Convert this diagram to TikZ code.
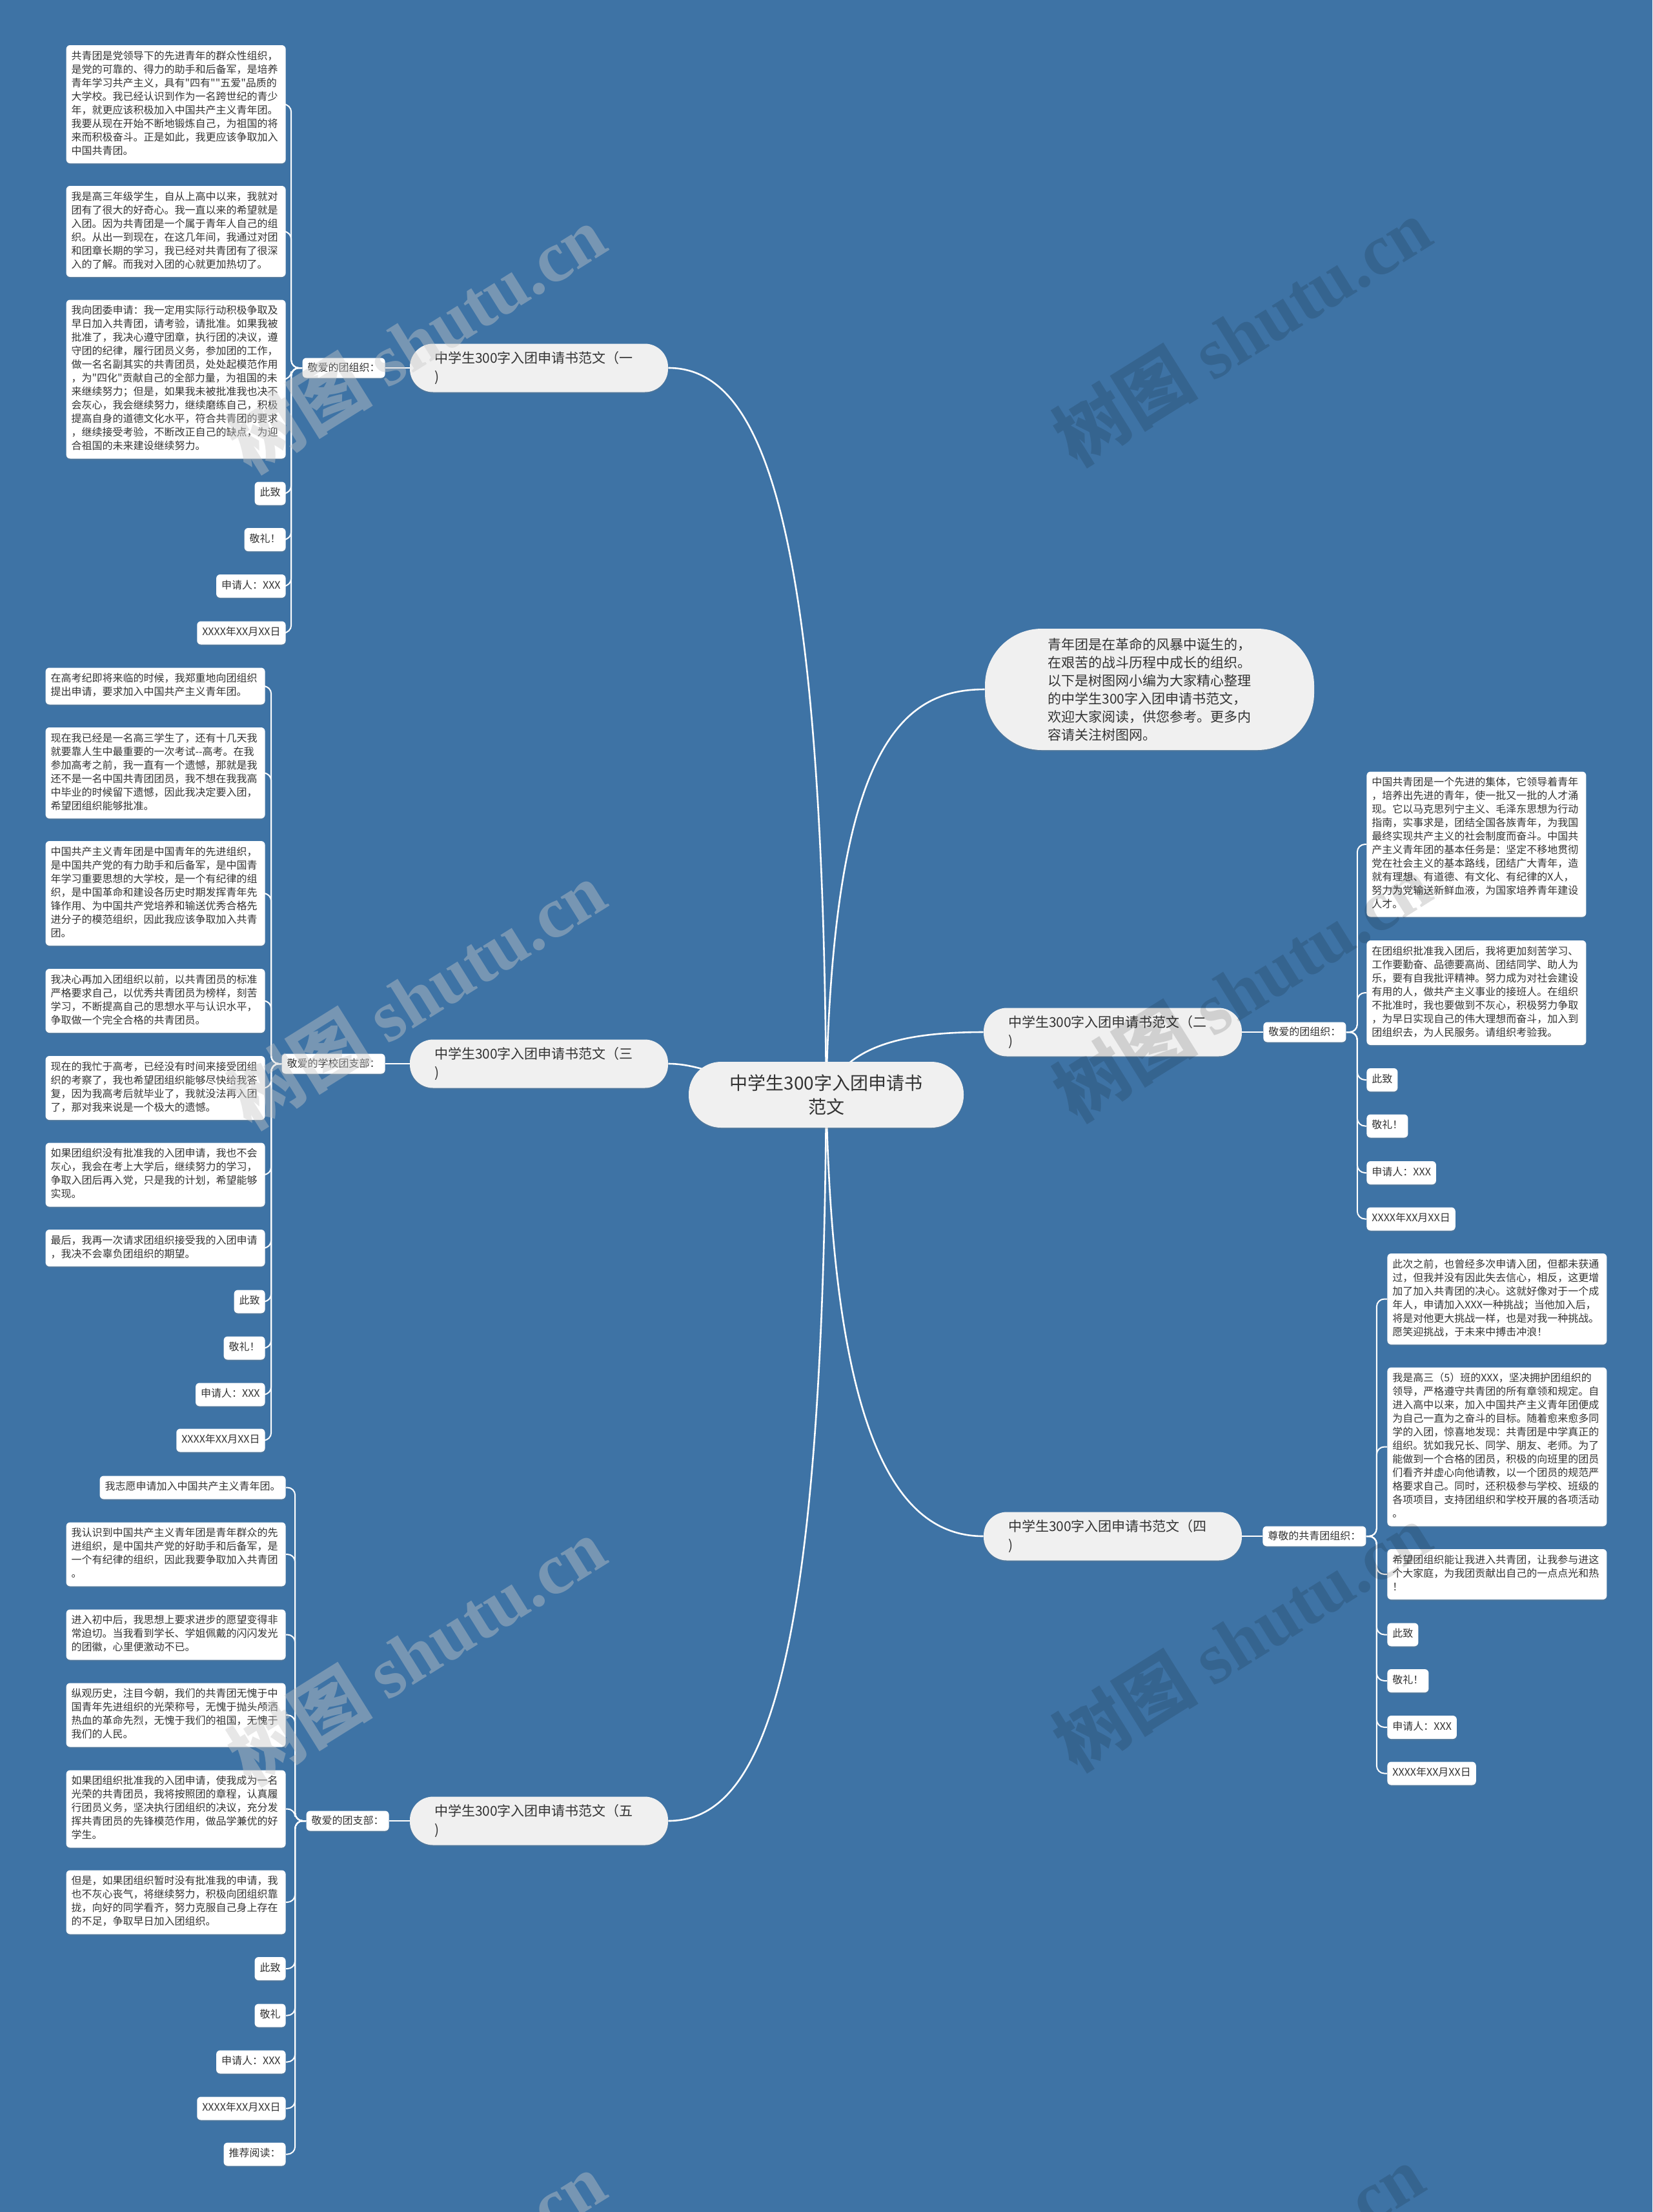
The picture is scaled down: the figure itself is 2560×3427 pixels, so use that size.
\documentclass[tikz,border=0pt]{standalone}
\usepackage{fontspec}
\newfontfamily\cjk{Noto Sans CJK SC}
\newfontfamily\wmlatin{Liberation Serif}
\usetikzlibrary{shadows,calc}
\definecolor{bgblue}{RGB}{62,115,165}
\definecolor{txt}{RGB}{51,51,51}
\definecolor{topicfill}{RGB}{240,240,240}
\definecolor{wmlight}{RGB}{200,200,200}
\pgfdeclarelayer{back}\pgfdeclarelayer{bg}\pgfdeclarelayer{fg}
\pgfsetlayers{back,bg,main,fg}
\tikzset{
 leaf/.style={fill=white, rounded corners=3pt, text=txt, font=\cjk\fontsize{8}{10.5}\selectfont, align=left, inner xsep=4pt, inner ysep=3.75pt, execute at begin node=\strut, execute at end node=\strut, drop shadow={shadow xshift=0pt, shadow yshift=-1pt, opacity=0.25}},
 wide/.style={leaf, text width=162pt},
 lbl/.style={fill=white, rounded corners=3pt, text=txt, font=\cjk\fontsize{8}{10}\selectfont, inner xsep=4pt, inner ysep=3.5pt, text height=7pt, text depth=1.5pt, drop shadow={shadow xshift=0pt, shadow yshift=-1pt, opacity=0.25}},
 topic/.style={fill=topicfill, rounded corners=18pt, text=txt, font=\cjk\fontsize{10.5}{14.5}\selectfont, align=left, text width=162pt, inner xsep=19pt, minimum height=37.5pt, drop shadow={shadow xshift=0pt, shadow yshift=-1pt, opacity=0.25}},
 cnode/.style={fill=topicfill, rounded corners=25pt, text=txt, font=\cjk\fontsize{14}{18.5}\selectfont, align=center, minimum width=213pt, minimum height=51pt, drop shadow={shadow xshift=0pt, shadow yshift=-1pt, opacity=0.25}},
 intro/.style={fill=topicfill, rounded corners=44pt, text=txt, font=\cjk\fontsize{10.5}{14}\selectfont, align=left, text width=157.5pt, minimum width=255pt, minimum height=94pt, drop shadow={shadow xshift=0pt, shadow yshift=-1pt, opacity=0.25}},
 mainc/.style={draw=white, line width=1.3pt},
 lc/.style={draw=white, line width=1pt, rounded corners=6pt},
 wmL/.style={text=wmlight, opacity=0.42, font=\cjk\fontsize{56}{60}\selectfont\bfseries, rotate=32},
 wmR/.style={text=black, opacity=0.13, font=\cjk\fontsize{56}{60}\selectfont\bfseries, rotate=32},
}
\begin{document}
\begin{tikzpicture}[x=0.5pt, y=-0.5pt]
\begin{pgfonlayer}{back}
\fill[bgblue] (0,0) rectangle (2560,3427);
\end{pgfonlayer}
\useasboundingbox (0,0) rectangle (2560,3427);

% center and topics
\node[cnode] (C) at (1280,1696) {中学生300字入团申请书\\范文};
\node[intro] (I) at (1781,1068) {青年团是在革命的风暴中诞生的，\\在艰苦的战斗历程中成长的组织。\\以下是树图网小编为大家精心整理\\的中学生300字入团申请书范文，\\欢迎大家阅读，供您参考。更多内\\容请关注树图网。};
\node[topic] (T1) at (835,570) {中学生300字入团申请书范文（一\\)};
\node[topic] (T3) at (835,1648) {中学生300字入团申请书范文（三\\)};
\node[topic] (T5) at (835,2821) {中学生300字入团申请书范文（五\\)};
\node[topic] (T2) at (1724,1599) {中学生300字入团申请书范文（二\\)};
\node[topic] (T4) at (1724,2380) {中学生300字入团申请书范文（四\\)};

% labels
\node[lbl, anchor=east] (L1) at (597,570) {敬爱的团组织：};
\node[lbl, anchor=east] (L3) at (597,1648) {敬爱的学校团支部：};
\node[lbl, anchor=east] (L5) at (603,2821) {敬爱的团支部：};
\node[lbl, anchor=west] (L2) at (1957,1599) {敬爱的团组织：};
\node[lbl, anchor=west] (L4) at (1956,2380) {尊敬的共青团组织：};

% branch 1
\node[wide, anchor=east] (a1) at (443,161.5) {共青团是党领导下的先进青年的群众性组织，\\是党的可靠的、得力的助手和后备军，是培养\\青年学习共产主义，具有"四有""五爱"品质的\\大学校。我已经认识到作为一名跨世纪的青少\\年，就更应该积极加入中国共产主义青年团。\\我要从现在开始不断地锻炼自己，为祖国的将\\来而积极奋斗。正是如此，我更应该争取加入\\中国共青团。};
\node[wide, anchor=east] (a2) at (443,358.5) {我是高三年级学生，自从上高中以来，我就对\\团有了很大的好奇心。我一直以来的希望就是\\入团。因为共青团是一个属于青年人自己的组\\织。从出一到现在，在这几年间，我通过对团\\和团章长期的学习，我已经对共青团有了很深\\入的了解。而我对入团的心就更加热切了。};
\node[wide, anchor=east] (a3) at (443,587.5) {我向团委申请：我一定用实际行动积极争取及\\早日加入共青团，请考验，请批准。如果我被\\批准了，我决心遵守团章，执行团的决议，遵\\守团的纪律，履行团员义务，参加团的工作，\\做一名名副其实的共青团员，处处起模范作用\\，为"四化"贡献自己的全部力量，为祖国的未\\来继续努力；但是，如果我未被批准我也决不\\会灰心，我会继续努力，继续磨练自己，积极\\提高自身的道德文化水平，符合共青团的要求\\，继续接受考验，不断改正自己的缺点，为迎\\合祖国的未来建设继续努力。};
\node[leaf, anchor=east] (a4) at (443,764.5) {此致};
\node[leaf, anchor=east] (a5) at (443,836) {敬礼！};
\node[leaf, anchor=east] (a6) at (443,908) {申请人：XXX};
\node[leaf, anchor=east] (a7) at (443,980.5) {XXXX年XX月XX日};

% branch 3
\node[wide, anchor=east] (c1) at (411,1063) {在高考纪即将来临的时候，我郑重地向团组织\\提出申请，要求加入中国共产主义青年团。};
\node[wide, anchor=east] (c2) at (411,1197.5) {现在我已经是一名高三学生了，还有十几天我\\就要靠人生中最重要的一次考试--高考。在我\\参加高考之前，我一直有一个遗憾，那就是我\\还不是一名中国共青团团员，我不想在我我高\\中毕业的时候留下遗憾，因此我决定要入团，\\希望团组织能够批准。};
\node[wide, anchor=east] (c3) at (411,1384) {中国共产主义青年团是中国青年的先进组织，\\是中国共产党的有力助手和后备军，是中国青\\年学习重要思想的大学校，是一个有纪律的组\\织，是中国革命和建设各历史时期发挥青年先\\锋作用、为中国共产党培养和输送优秀合格先\\进分子的模范组织，因此我应该争取加入共青\\团。};
\node[wide, anchor=east] (c4) at (411,1550.5) {我决心再加入团组织以前，以共青团员的标准\\严格要求自己，以优秀共青团员为榜样，刻苦\\学习，不断提高自己的思想水平与认识水平，\\争取做一个完全合格的共青团员。};
\node[wide, anchor=east] (c5) at (411,1685.5) {现在的我忙于高考，已经没有时间来接受团组\\织的考察了，我也希望团组织能够尽快给我答\\复，因为我高考后就毕业了，我就没法再入团\\了，那对我来说是一个极大的遗憾。};
\node[wide, anchor=east] (c6) at (411,1820) {如果团组织没有批准我的入团申请，我也不会\\灰心，我会在考上大学后，继续努力的学习，\\争取入团后再入党，只是我的计划，希望能够\\实现。};
\node[wide, anchor=east] (c7) at (411,1933.5) {最后，我再一次请求团组织接受我的入团申请\\，我决不会辜负团组织的期望。};
\node[leaf, anchor=east] (c8) at (411,2016.5) {此致};
\node[leaf, anchor=east] (c9) at (411,2088.5) {敬礼！};
\node[leaf, anchor=east] (c10) at (411,2160.5) {申请人：XXX};
\node[leaf, anchor=east] (c11) at (411,2231.5) {XXXX年XX月XX日};

% branch 5
\node[leaf, anchor=east] (e1) at (443,2304.5) {我志愿申请加入中国共产主义青年团。};
\node[wide, anchor=east] (e2) at (443,2408) {我认识到中国共产主义青年团是青年群众的先\\进组织，是中国共产党的好助手和后备军，是\\一个有纪律的组织，因此我要争取加入共青团\\。};
\node[wide, anchor=east] (e3) at (443,2532.5) {进入初中后，我思想上要求进步的愿望变得非\\常迫切。当我看到学长、学姐佩戴的闪闪发光\\的团徽，心里便激动不已。};
\node[wide, anchor=east] (e4) at (443,2657) {纵观历史，注目今朝，我们的共青团无愧于中\\国青年先进组织的光荣称号，无愧于抛头颅洒\\热血的革命先烈，无愧于我们的祖国，无愧于\\我们的人民。};
\node[wide, anchor=east] (e5) at (443,2802.5) {如果团组织批准我的入团申请，使我成为一名\\光荣的共青团员，我将按照团的章程，认真履\\行团员义务，坚决执行团组织的决议，充分发\\挥共青团员的先锋模范作用，做品学兼优的好\\学生。};
\node[wide, anchor=east] (e6) at (443,2947) {但是，如果团组织暂时没有批准我的申请，我\\也不灰心丧气，将继续努力，积极向团组织靠\\拢，向好的同学看齐，努力克服自己身上存在\\的不足，争取早日加入团组织。};
\node[leaf, anchor=east] (e7) at (443,3050) {此致};
\node[leaf, anchor=east] (e8) at (443,3122.5) {敬礼};
\node[leaf, anchor=east] (e9) at (443,3194.5) {申请人：XXX};
\node[leaf, anchor=east] (e10) at (443,3266.5) {XXXX年XX月XX日};
\node[leaf, anchor=east] (e11) at (443,3337.5) {推荐阅读：};

% branch 2
\node[wide, anchor=west] (b1) at (2117,1308) {中国共青团是一个先进的集体，它领导着青年\\，培养出先进的青年，使一批又一批的人才涌\\现。它以马克思列宁主义、毛泽东思想为行动\\指南，实事求是，团结全国各族青年，为我国\\最终实现共产主义的社会制度而奋斗。中国共\\产主义青年团的基本任务是：坚定不移地贯彻\\党在社会主义的基本路线，团结广大青年，造\\就有理想、有道德、有文化、有纪律的X人，\\努力为党输送新鲜血液，为国家培养青年建设\\人才。};
\node[wide, anchor=west] (b2) at (2117,1538) {在团组织批准我入团后，我将更加刻苦学习、\\工作要勤奋、品德要高尚、团结同学、助人为\\乐，要有自我批评精神。努力成为对社会建设\\有用的人，做共产主义事业的接班人。在组织\\不批准时，我也要做到不灰心，积极努力争取\\，为早日实现自己的伟大理想而奋斗，加入到\\团组织去，为人民服务。请组织考验我。};
\node[leaf, anchor=west] (b3) at (2117,1673) {此致};
\node[leaf, anchor=west] (b4) at (2117,1744.5) {敬礼！};
\node[leaf, anchor=west] (b5) at (2117,1817) {申请人：XXX};
\node[leaf, anchor=west] (b6) at (2117,1888.5) {XXXX年XX月XX日};

% branch 4
\node[wide, anchor=west] (d1) at (2149,2012.5) {此次之前，也曾经多次申请入团，但都未获通\\过，但我并没有因此失去信心，相反，这更增\\加了加入共青团的决心。这就好像对于一个成\\年人，申请加入XXX一种挑战；当他加入后，\\将是对他更大挑战一样，也是对我一种挑战。\\愿笑迎挑战，于未来中搏击冲浪！};
\node[wide, anchor=west] (d2) at (2149,2241.5) {我是高三（5）班的XXX，坚决拥护团组织的\\领导，严格遵守共青团的所有章领和规定。自\\进入高中以来，加入中国共产主义青年团便成\\为自己一直为之奋斗的目标。随着愈来愈多同\\学的入团，惊喜地发现：共青团是中学真正的\\组织。犹如我兄长、同学、朋友、老师。为了\\能做到一个合格的团员，积极的向班里的团员\\们看齐并虚心向他请教，以一个团员的规范严\\格要求自己。同时，还积极参与学校、班级的\\各项项目，支持团组织和学校开展的各项活动\\。};
\node[wide, anchor=west] (d3) at (2149,2439) {希望团组织能让我进入共青团，让我参与进这\\个大家庭，为我团贡献出自己的一点点光和热\\！};
\node[leaf, anchor=west] (d4) at (2149,2532.5) {此致};
\node[leaf, anchor=west] (d5) at (2149,2604) {敬礼！};
\node[leaf, anchor=west] (d6) at (2149,2676) {申请人：XXX};
\node[leaf, anchor=west] (d7) at (2149,2747.5) {XXXX年XX月XX日};

\begin{pgfonlayer}{bg}
% main curves
\draw[mainc] (C.center) .. controls (1275,800) and (1180,570) .. (T1.east);
\draw[mainc] (C.center) .. controls (1150,1690) and (1100,1648) .. (T3.east);
\draw[mainc] (C.center) .. controls (1275,2600) and (1180,2821) .. (T5.east);
\draw[mainc] (C.center) .. controls (1290,1150) and (1400,1068) .. (I.west);
\draw[mainc] (C.center) .. controls (1310,1620) and (1400,1599) .. (T2.west);
\draw[mainc] (C.center) .. controls (1290,2250) and (1400,2380) .. (T4.west);
% topic to label
\draw[lc] (T1.west) -- (L1.east);
\draw[lc] (T3.west) -- (L3.east);
\draw[lc] (T5.west) -- (L5.east);
\draw[lc] (T2.east) -- (L2.west);
\draw[lc] (T4.east) -- (L4.west);
% label to leaves
\foreach \n in {a1,a2,a3,a4,a5,a6,a7} \draw[lc] (L1.west) -- ++(-17,0) |- (\n.east);
\foreach \n in {c1,c2,c3,c4,c5,c6,c7,c8,c9,c10,c11} \draw[lc] (L3.west) -- ++(-16,0) |- (\n.east);
\foreach \n in {e1,e2,e3,e4,e5,e6,e7,e8,e9,e10,e11} \draw[lc] (L5.west) -- ++(-17,0) |- (\n.east);
\foreach \n in {b1,b2,b3,b4,b5,b6} \draw[lc] (L2.east) -- ++(17,0) |- (\n.west);
\foreach \n in {d1,d2,d3,d4,d5,d6,d7} \draw[lc] (L4.east) -- ++(16,0) |- (\n.west);
\end{pgfonlayer}

\begin{pgfonlayer}{fg}
\node[wmL] (w1) at (645,525) {树图 {\wmlatin\bfseries shutu.cn}};
\node[wmL] (w3) at (645,1541) {树图 {\wmlatin\bfseries shutu.cn}};
\node[wmL] (w5) at (645,2558) {树图 {\wmlatin\bfseries shutu.cn}};
\node[wmL] (w7) at (645,3541) {树图 {\wmlatin\bfseries shutu.cn}};
\node[wmR] (w2) at (1924,514) {树图 {\wmlatin\bfseries shutu.cn}};
\node[wmR] (w4) at (1924,1530) {树图 {\wmlatin\bfseries shutu.cn}};
\node[wmR] (w6) at (1924,2536) {树图 {\wmlatin\bfseries shutu.cn}};
\node[wmR] (w8) at (1913,3530) {树图 {\wmlatin\bfseries shutu.cn}};
\end{pgfonlayer}
\end{tikzpicture}
\end{document}
